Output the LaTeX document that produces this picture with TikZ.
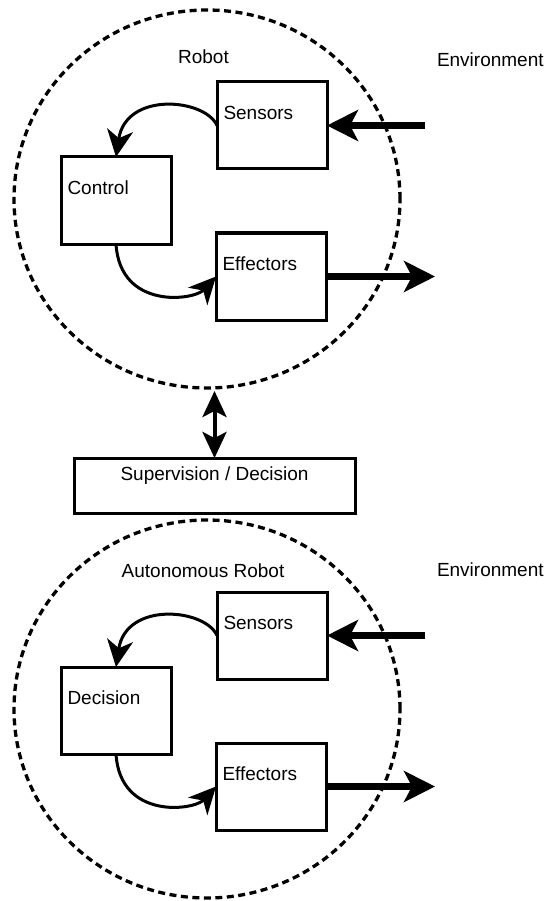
\documentclass[tikz,border=0pt]{standalone}
\usepackage{fontspec}
\setmainfont{Liberation Sans}
\usetikzlibrary{arrows.meta,shapes.geometric}
\tikzset{
  boxnode/.style={draw, line width=3pt, minimum width=110pt, minimum height=87pt,
    inner sep=0pt, outer sep=0pt, anchor=north west},
  supbox/.style={draw, line width=3pt, minimum width=281pt, minimum height=55pt,
    inner sep=0pt, outer sep=0pt, anchor=north west},
  ring/.style={ellipse, draw, line width=3.3pt, dash pattern=on 7pt off 4.5pt,
    minimum width=386pt, minimum height=378pt, inner sep=0pt, outer sep=0pt},
  txt/.style={font=\fontsize{19}{22}\selectfont, inner sep=0pt, outer sep=0pt},
  thinarrow/.style={line width=3pt, -{Stealth[length=27pt,width=26pt,inset=8pt]}},
  thickarrow/.style={line width=7pt, -{Stealth[length=31pt,width=31pt,inset=8pt]}},
  dblarrow/.style={line width=4pt,
    {Stealth[length=26pt,width=24pt,inset=6pt]}-{Stealth[length=26pt,width=24pt,inset=6pt]}}
}
\begin{document}
\begin{tikzpicture}[x=1pt,y=-1pt]
\useasboundingbox (0,0) rectangle (551,901);

% ---------- upper robot ----------
\node[ring] (robot) at (207,199) {};
\node[boxnode] (sens) at (217,82) {};
\node[boxnode] (ctrl) at (61,157) {};
\node[boxnode] (eff) at (216,233) {};
\node[txt, anchor=base west] (senst) at ([xshift=6.5pt,yshift=-37.5pt]sens.north west) {Sensors};
\node[txt, anchor=base west] (ctrlt) at ([xshift=6.5pt,yshift=-37.5pt]ctrl.north west) {Control};
\node[txt, anchor=base west] (efft) at ([xshift=6.5pt,yshift=-37.5pt]eff.north west) {Effectors};
\node[txt, anchor=base] (robott) at (203.5,63.3) {Robot};
\node[txt, anchor=base west] (envt) at (437,66.7) {Environment};
\coordinate (envin) at (425,125.5);
\coordinate (envout) at (435,276.5);

\draw[thinarrow] (sens.west) .. controls +(-12,-27) and +(10,-66) .. (ctrl.north);
\draw[thinarrow] (ctrl.south) .. controls +(4,66) and +(-22,24) .. (eff.west);
\draw[thickarrow] (envin) -- (sens.east);
\draw[thickarrow] (eff.east) -- (envout);

% ---------- supervision ----------
\node[supbox] (sup) at (74,458) {};
\node[txt, anchor=base] (supt) at ([yshift=-22pt]sup.north) {Supervision / Decision};
\draw[dblarrow] ([yshift=-3pt]sup.north |- robot.south) -- (sup.north);

% ---------- autonomous robot ----------
\node[ring] (arobot) at (207,709) {};
\node[boxnode] (asens) at (217,592) {};
\node[boxnode] (adec) at (61,667) {};
\node[boxnode] (aeff) at (216,743) {};
\node[txt, anchor=base west] (asenst) at ([xshift=6.5pt,yshift=-37.5pt]asens.north west) {Sensors};
\node[txt, anchor=base west] (adect) at ([xshift=6.5pt,yshift=-37.5pt]adec.north west) {Decision};
\node[txt, anchor=base west] (aefft) at ([xshift=6.5pt,yshift=-37.5pt]aeff.north west) {Effectors};
\node[txt, anchor=base] (arobott) at (203,577.3) {Autonomous Robot};
\node[txt, anchor=base west] (aenvt) at (437,576.7) {Environment};
\coordinate (aenvin) at (425,635.5);
\coordinate (aenvout) at (435,786.5);

\draw[thinarrow] (asens.west) .. controls +(-12,-27) and +(10,-66) .. (adec.north);
\draw[thinarrow] (adec.south) .. controls +(4,66) and +(-22,24) .. (aeff.west);
\draw[thickarrow] (aenvin) -- (asens.east);
\draw[thickarrow] (aeff.east) -- (aenvout);
\end{tikzpicture}
\end{document}
